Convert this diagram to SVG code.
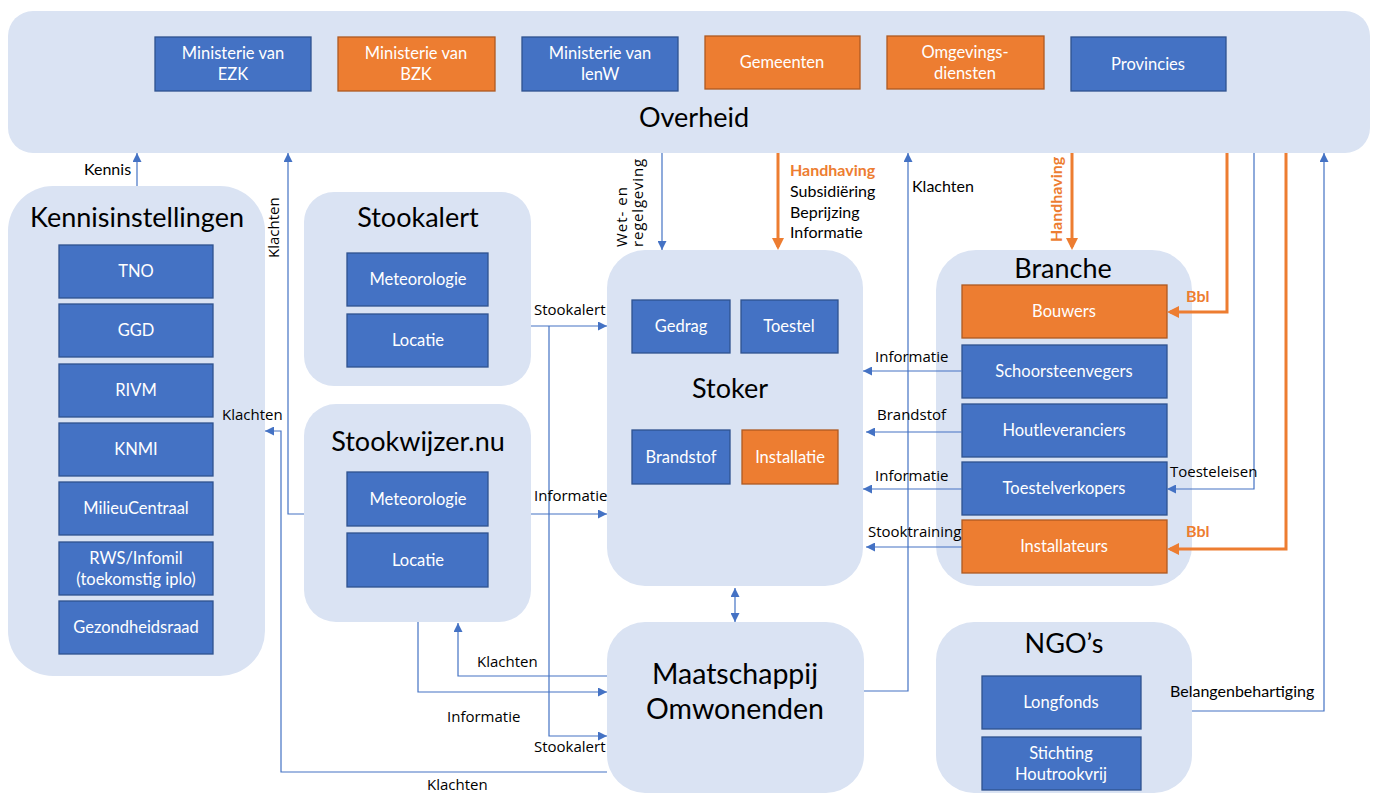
<svg xmlns="http://www.w3.org/2000/svg" width="1373" height="796" viewBox="0 0 1373 796">
<defs>
<style>
.cont{fill:#DAE3F3}
.bb{fill:#4472C4;stroke:#2F528F;stroke-width:1.3}
.ob{fill:#ED7D31;stroke:#AE5A21;stroke-width:1.3}
.bt{font-family:Lato,"Liberation Sans",sans-serif;font-size:16.5px;fill:#fff;text-anchor:middle}
.ti{font-family:Lato,"Liberation Sans",sans-serif;font-size:27px;fill:#000;text-anchor:middle}
.lc{font-family:Lato,"Liberation Sans",sans-serif;font-size:16px;fill:#000}
.ls{font-family:"Open Sans","Liberation Sans",sans-serif;font-size:15px;fill:#000}
.lo{font-family:Lato,"Liberation Sans",sans-serif;font-size:16px;font-weight:bold;fill:#ED7D31}
.cb{fill:none;stroke:#4472C4;stroke-width:1.2}
.co{fill:none;stroke:#ED7D31;stroke-width:3}
</style>
<marker id="ab" viewBox="0 0 10 10" refX="10" refY="5" markerWidth="9" markerHeight="9" markerUnits="userSpaceOnUse" orient="auto-start-reverse"><path d="M0,0 L10,5 L0,10 z" fill="#4472C4"/></marker>
<marker id="ao" viewBox="0 0 10 10" refX="7.5" refY="5" markerWidth="12" markerHeight="12" markerUnits="userSpaceOnUse" orient="auto"><path d="M0,0 L10,5 L0,10 z" fill="#ED7D31"/></marker>
</defs>

<g id="overheid">
<rect class="cont" x="8" y="11" width="1362" height="142" rx="25"/>
<text class="ti" x="694" y="127">Overheid</text>
</g>
<g id="ezk"><rect class="bb" x="155" y="37" width="156" height="54"/><text class="bt" x="233" y="59">Ministerie van</text><text class="bt" x="233" y="80">EZK</text></g>
<g id="bzk"><rect class="ob" x="338" y="37" width="157" height="54"/><text class="bt" x="416" y="59">Ministerie van</text><text class="bt" x="416" y="80">BZK</text></g>
<g id="ienw"><rect class="bb" x="522" y="37" width="156" height="54"/><text class="bt" x="600" y="59">Ministerie van</text><text class="bt" x="600" y="80">IenW</text></g>
<g id="gemeenten"><rect class="ob" x="705" y="36" width="155" height="53"/><text class="bt" x="782" y="68">Gemeenten</text></g>
<g id="omgevingsdiensten"><rect class="ob" x="887" y="36" width="157" height="53"/><text class="bt" x="965" y="58">Omgevings-</text><text class="bt" x="965" y="79">diensten</text></g>
<g id="provincies"><rect class="bb" x="1071" y="37" width="155" height="54"/><text class="bt" x="1148" y="70">Provincies</text></g>

<g id="kennisinstellingen">
<rect class="cont" x="8" y="186" width="257" height="490" rx="45"/>
<text class="ti" x="137" y="227">Kennisinstellingen</text>
</g>
<g id="tno"><rect class="bb" x="59" y="245" width="154" height="53"/><text class="bt" x="136" y="277">TNO</text></g>
<g id="ggd"><rect class="bb" x="59" y="304" width="154" height="53"/><text class="bt" x="136" y="336">GGD</text></g>
<g id="rivm"><rect class="bb" x="59" y="364" width="154" height="53"/><text class="bt" x="136" y="396">RIVM</text></g>
<g id="knmi"><rect class="bb" x="59" y="423" width="154" height="53"/><text class="bt" x="136" y="455">KNMI</text></g>
<g id="milieucentraal"><rect class="bb" x="59" y="482" width="154" height="53"/><text class="bt" x="136" y="514">MilieuCentraal</text></g>
<g id="rws"><rect class="bb" x="59" y="542" width="154" height="53"/><text class="bt" x="136" y="564">RWS/Infomil</text><text class="bt" x="136" y="585">(toekomstig iplo)</text></g>
<g id="gezondheidsraad"><rect class="bb" x="59" y="601" width="154" height="53"/><text class="bt" x="136" y="633">Gezondheidsraad</text></g>

<g id="stookalert">
<rect class="cont" x="304" y="192" width="227" height="194" rx="30"/>
<text class="ti" x="418" y="227">Stookalert</text>
<rect class="bb" x="347" y="253" width="141" height="53"/><text class="bt" x="418" y="285">Meteorologie</text>
<rect class="bb" x="347" y="314" width="141" height="53"/><text class="bt" x="418" y="346">Locatie</text>
</g>

<g id="stookwijzer">
<rect class="cont" x="304" y="404" width="227" height="218" rx="32"/>
<text class="ti" x="418" y="451">Stookwijzer.nu</text>
<rect class="bb" x="347" y="472" width="141" height="54"/><text class="bt" x="418" y="505">Meteorologie</text>
<rect class="bb" x="347" y="533" width="141" height="54"/><text class="bt" x="418" y="566">Locatie</text>
</g>

<g id="stoker">
<rect class="cont" x="607" y="250" width="256" height="336" rx="38"/>
<text class="ti" x="730" y="398">Stoker</text>
<rect class="bb" x="632" y="300" width="98" height="53"/><text class="bt" x="681" y="332">Gedrag</text>
<rect class="bb" x="741" y="300" width="97" height="53"/><text class="bt" x="789" y="332">Toestel</text>
<rect class="bb" x="632" y="430" width="98" height="54"/><text class="bt" x="681" y="463">Brandstof</text>
<rect class="ob" x="742" y="430" width="96" height="54"/><text class="bt" x="790" y="463">Installatie</text>
</g>

<g id="maatschappij">
<rect class="cont" x="607" y="622" width="257" height="171" rx="38"/>
<text class="ti" x="735" y="684" style="font-size:28.5px">Maatschappij</text>
<text class="ti" x="735" y="719" style="font-size:28.5px">Omwonenden</text>
</g>

<g id="branche">
<rect class="cont" x="936" y="250" width="256" height="336" rx="40"/>
<text class="ti" x="1063" y="278">Branche</text>
</g>
<g id="bouwers"><rect class="ob" x="962" y="285" width="205" height="53"/><text class="bt" x="1064" y="317">Bouwers</text></g>
<g id="schoorsteenvegers"><rect class="bb" x="962" y="345" width="205" height="53"/><text class="bt" x="1064" y="377">Schoorsteenvegers</text></g>
<g id="houtleveranciers"><rect class="bb" x="962" y="404" width="205" height="53"/><text class="bt" x="1064" y="436">Houtleveranciers</text></g>
<g id="toestelverkopers"><rect class="bb" x="962" y="462" width="205" height="53"/><text class="bt" x="1064" y="494">Toestelverkopers</text></g>
<g id="installateurs"><rect class="ob" x="962" y="520" width="205" height="53"/><text class="bt" x="1064" y="552">Installateurs</text></g>

<g id="ngos">
<rect class="cont" x="936" y="622" width="256" height="171" rx="38"/>
<text class="ti" x="1064" y="653">NGO’s</text>
<rect class="bb" x="982" y="676" width="159" height="53"/><text class="bt" x="1061" y="708">Longfonds</text>
<rect class="bb" x="982" y="737" width="159" height="53"/><text class="bt" x="1061" y="759">Stichting</text><text class="bt" x="1061" y="780">Houtrookvrij</text>
</g>

<g id="connectors">
<path class="cb" d="M137,186 V153" marker-end="url(#ab)"/>
<path class="cb" d="M304,514 H288 V153" marker-end="url(#ab)"/>
<path class="cb" d="M607,772 H281 V431 H265" marker-end="url(#ab)"/>
<path class="cb" d="M531,326 H607" marker-end="url(#ab)"/>
<path class="cb" d="M549,326 V736 H607" marker-end="url(#ab)"/>
<path class="cb" d="M531,514 H607" marker-end="url(#ab)"/>
<path class="cb" d="M418,622 V692 H607" marker-end="url(#ab)"/>
<path class="cb" d="M607,676 H458 V623" marker-end="url(#ab)"/>
<path class="cb" d="M662,153 V250" marker-end="url(#ab)"/>
<path class="cb" d="M864,691 H908 V153" marker-end="url(#ab)"/>
<path class="cb" d="M1254,153 V489 H1167" marker-end="url(#ab)"/>
<path class="cb" d="M1192,711 H1324 V153" marker-end="url(#ab)"/>
<path class="cb" d="M962,371 H863" marker-end="url(#ab)"/>
<path class="cb" d="M962,432 H866" marker-end="url(#ab)"/>
<path class="cb" d="M962,489 H863" marker-end="url(#ab)"/>
<path class="cb" d="M962,547 H866" marker-end="url(#ab)"/>
<path class="cb" d="M735,588 V622" marker-start="url(#ab)" marker-end="url(#ab)"/>
<path class="co" d="M778,153 V247" marker-end="url(#ao)"/>
<path class="co" d="M1072,153 V247" marker-end="url(#ao)"/>
<path class="co" d="M1227,153 V312 H1170" marker-end="url(#ao)"/>
<path class="co" d="M1286,153 V549 H1170" marker-end="url(#ao)"/>
<text class="lc" x="84" y="175">Kennis</text>
<text class="ls" transform="translate(279,258) rotate(-90)">Klachten</text>
<text class="ls" x="222" y="420">Klachten</text>
<text class="ls" x="534" y="315">Stookalert</text>
<text class="ls" x="534" y="501">Informatie</text>
<text class="ls" x="477" y="667">Klachten</text>
<text class="ls" x="447" y="722">Informatie</text>
<text class="ls" x="534" y="752">Stookalert</text>
<text class="ls" x="427" y="790">Klachten</text>
<text class="ls" transform="translate(627,247) rotate(-90)" style="letter-spacing:1px">Wet- en</text>
<text class="ls" transform="translate(643,247) rotate(-90)" style="letter-spacing:0.8px">regelgeving</text>
<text class="lo" x="790" y="176">Handhaving</text>
<text class="lc" x="790" y="197">Subsidiëring</text>
<text class="lc" x="790" y="218">Beprijzing</text>
<text class="lc" x="790" y="238">Informatie</text>
<text class="lc" x="912" y="192">Klachten</text>
<text class="lo" transform="translate(1062,242) rotate(-90)">Handhaving</text>
<text class="lo" x="1186" y="302">Bbl</text>
<text class="lo" x="1186" y="537">Bbl</text>
<text class="ls" x="1170" y="477">Toesteleisen</text>
<text class="lc" x="1170" y="697">Belangenbehartiging</text>
<text class="ls" x="875" y="362">Informatie</text>
<text class="ls" x="877" y="420">Brandstof</text>
<text class="ls" x="875" y="481">Informatie</text>
<text class="ls" x="868" y="537">Stooktraining</text>
</g>
</svg>
